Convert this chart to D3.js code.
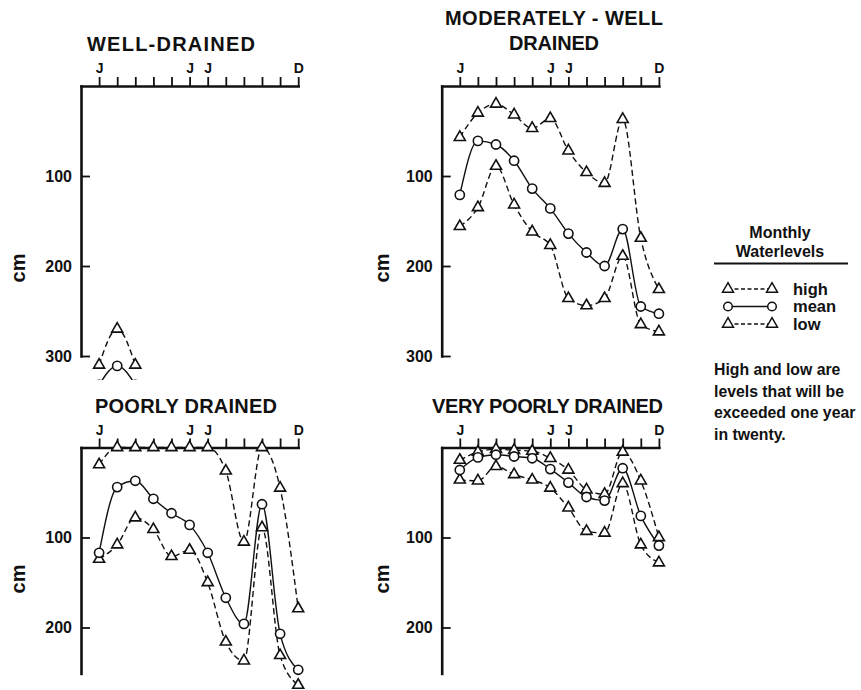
<!DOCTYPE html>
<html>
<head>
<meta charset="utf-8">
<script src="https://cdn.jsdelivr.net/npm/d3@7"></script>
<style>
  html, body { margin: 0; padding: 0; background: #fff; }
  svg { display: block; }
  text { font-family: "Liberation Sans", Arial, sans-serif; fill: #111; }
</style>
</head>
<body>
<svg id="chart" width="861" height="690"></svg>
<script>
// ---------- data (cm below surface, Jan..Dec) ----------
const months = ["Jan","Feb","Mar","Apr","May","Jun","Jul","Aug","Sep","Oct","Nov","Dec"];
const monthTickLabels = ["J","","","","","J","J","","","","","D"];

const wellHigh = [310, 270, 310, null, null, null, null, null, null, null, null, null];
const wellMean = [332, 311, 332, null, null, null, null, null, null, null, null, null];
const wellLow  = [null, null, null, null, null, null, null, null, null, null, null, null];

const modHigh = [57, 30, 20, 32, 47, 36, 72, 96, 108, 37, 169, 226];
const modMean = [121, 61, 65, 83, 114, 136, 164, 185, 200, 159, 245, 253];
const modLow  = [156, 135, 89, 132, 162, 177, 236, 244, 236, 189, 265, 273];

const poorHigh = [19, 0, 0, 0, 0, 0, 0, 26, 105, 0, 45, 179];
const poorMean = [117, 44, 37, 57, 73, 86, 117, 167, 196, 63, 207, 247];
const poorLow  = [124, 108, 78, 91, 121, 114, 150, 216, 237, 89, 231, 264];

const vpHigh = [14, 5, 2, 3, 4, 12, 25, 47, 52, 5, 37, 100];
const vpMean = [25, 11, 8, 10, 12, 24, 39, 55, 59, 23, 76, 109];
const vpLow  = [36, 37, 21, 30, 36, 45, 67, 93, 95, 40, 108, 128];

const topTicks = [100, 200, 300];
const bottomTicks = [100, 200];

const legendItems = ["high", "mean", "low"];
const noteLines = ["High and low are", "levels that will be", "exceeded one year", "in twenty."];

// ---------- layout ----------
const svg = d3.select("#chart");
const step = 18.1;
const pxPerCm = 0.9;

const panels = [
  { title: ["WELL-DRAINED"], titleX: 171, titleY: [50.5], titleW: [168],
    x0: 81, y0: 86, yMax: 300, ticks: topTicks, cmX: 25, cmY: 268, clipBottom: 380,
    high: wellHigh, mean: wellMean, low: wellLow },
  { title: ["MODERATELY - WELL", "DRAINED"], titleX: 554, titleY: [25, 50], titleW: [218, 90],
    x0: 441.7, y0: 86, yMax: 300, ticks: topTicks, cmX: 389, cmY: 268, clipBottom: 380,
    high: modHigh, mean: modMean, low: modLow },
  { title: ["POORLY DRAINED"], titleX: 186, titleY: [413], titleW: [182],
    x0: 81, y0: 447.5, yMax: 251, ticks: bottomTicks, cmX: 25, cmY: 579, clipBottom: 690,
    high: poorHigh, mean: poorMean, low: poorLow },
  { title: ["VERY POORLY DRAINED"], titleX: 547.5, titleY: [413], titleW: [231],
    x0: 441.7, y0: 447.5, yMax: 251, ticks: bottomTicks, cmX: 389, cmY: 579, clipBottom: 690,
    high: vpHigh, mean: vpMean, low: vpLow }
];

const triangle = d3.symbol().type(d3.symbolTriangle).size(52);

panels.forEach((p, pi) => {
  const x = d3.scaleLinear().domain([-1, 11]).range([p.x0, p.x0 + 12 * step]);
  const y = d3.scaleLinear().domain([0, p.yMax]).range([p.y0, p.y0 + p.yMax * pxPerCm]);

  const g = svg.append("g");

  // titles
  p.title.forEach((t, i) => {
    g.append("text")
      .attr("x", p.titleX).attr("y", p.titleY[i])
      .attr("text-anchor", "middle")
      .attr("font-size", 20).attr("font-weight", "bold")
      .attr("textLength", p.titleW[i]).attr("lengthAdjust", "spacing")
      .text(t);
  });

  // cm label
  g.append("text")
    .attr("transform", `translate(${p.cmX},${p.cmY}) rotate(-90)`)
    .attr("text-anchor", "middle")
    .attr("font-size", 20).attr("font-weight", "bold")
    .text("cm");

  // top month axis
  const xAxis = d3.axisTop(x)
    .tickValues(d3.range(12))
    .tickSize(9).tickSizeOuter(0).tickPadding(4)
    .tickFormat(i => monthTickLabels[i]);
  const gx = g.append("g").attr("transform", `translate(0,${p.y0})`).call(xAxis);

  // left depth axis, ticks pointing inward
  const yAxis = d3.axisLeft(y)
    .tickValues(p.ticks)
    .tickSize(-9).tickSizeOuter(0).tickPadding(9)
    .tickFormat(d3.format("d"));
  const gy = g.append("g").attr("transform", `translate(${p.x0},0)`).call(yAxis);

  [gx, gy].forEach(ax => {
    ax.select(".domain").attr("stroke", "#111").attr("stroke-width", 2.6).attr("stroke-linecap", "square");
    ax.selectAll(".tick line").attr("stroke", "#111").attr("stroke-width", 1.8);
    ax.selectAll("text").attr("fill", "#111").attr("font-family", "'Liberation Sans', Arial, sans-serif").attr("font-weight", "bold");
  });
  gx.selectAll("text").attr("font-size", 14);
  gy.selectAll("text").attr("font-size", 16);

  // clip for data
  const clipId = "clip" + pi;
  svg.append("clipPath").attr("id", clipId)
    .append("rect")
    .attr("x", p.x0 - 20).attr("y", p.y0 - 20)
    .attr("width", 260).attr("height", p.clipBottom - p.y0 + 20);

  const dg = g.append("g").attr("clip-path", `url(#${clipId})`);

  const line = d3.line()
    .defined(d => d != null)
    .x((d, i) => x(i))
    .y(d => y(d))
    .curve(d3.curveMonotoneX);

  const series = [
    { vals: p.low,  dashed: true,  marker: "tri" },
    { vals: p.high, dashed: true,  marker: "tri" },
    { vals: p.mean, dashed: false, marker: "circ" }
  ];

  series.forEach(s => {
    if (!s.vals.some(v => v != null)) return;
    dg.append("path")
      .attr("d", line(s.vals))
      .attr("fill", "none")
      .attr("stroke", "#111")
      .attr("stroke-width", 1.4)
      .attr("stroke-dasharray", s.dashed ? "6,3.5" : null);
  });

  series.forEach(s => {
    const pts = s.vals.map((v, i) => ({ v, i })).filter(d => d.v != null);
    if (s.marker === "tri") {
      dg.selectAll(null).data(pts).enter().append("path")
        .attr("d", triangle)
        .attr("transform", d => `translate(${x(d.i)},${y(d.v)})`)
        .attr("fill", "#fff").attr("stroke", "#111").attr("stroke-width", 1.6);
    } else {
      dg.selectAll(null).data(pts).enter().append("circle")
        .attr("cx", d => x(d.i)).attr("cy", d => y(d.v)).attr("r", 4.6)
        .attr("fill", "#fff").attr("stroke", "#111").attr("stroke-width", 1.6);
    }
  });
});

// ---------- legend ----------
const lg = svg.append("g");
lg.append("text").attr("x", 780).attr("y", 238).attr("text-anchor", "middle")
  .attr("font-size", 16).attr("font-weight", "bold").text("Monthly");
lg.append("text").attr("x", 780).attr("y", 257).attr("text-anchor", "middle")
  .attr("font-size", 16).attr("font-weight", "bold").text("Waterlevels");
lg.append("line").attr("x1", 714).attr("x2", 848).attr("y1", 263.5).attr("y2", 263.5)
  .attr("stroke", "#111").attr("stroke-width", 2);

const legY = d3.scalePoint().domain(legendItems).range([289, 324]);
legendItems.forEach(name => {
  const yy = legY(name);
  const dashed = name !== "mean";
  lg.append("line").attr("x1", 728).attr("x2", 772).attr("y1", yy).attr("y2", yy)
    .attr("stroke", "#111").attr("stroke-width", 1.3)
    .attr("stroke-dasharray", dashed ? "4,2.5" : null);
  [728, 772].forEach(cx => {
    if (dashed) {
      lg.append("path").attr("d", triangle).attr("transform", `translate(${cx},${yy})`)
        .attr("fill", "#fff").attr("stroke", "#111").attr("stroke-width", 1.5);
    } else {
      lg.append("circle").attr("cx", cx).attr("cy", yy).attr("r", 4.3)
        .attr("fill", "#fff").attr("stroke", "#111").attr("stroke-width", 1.5);
    }
  });
  lg.append("text").attr("x", 793).attr("y", yy + 5.5)
    .attr("font-size", 16.5).attr("font-weight", "bold").text(name);
});

noteLines.forEach((t, i) => {
  lg.append("text").attr("x", 714).attr("y", 375 + i * 21.7)
    .attr("font-size", 15.8).attr("font-weight", "bold").text(t);
});
</script>
</body>
</html>
